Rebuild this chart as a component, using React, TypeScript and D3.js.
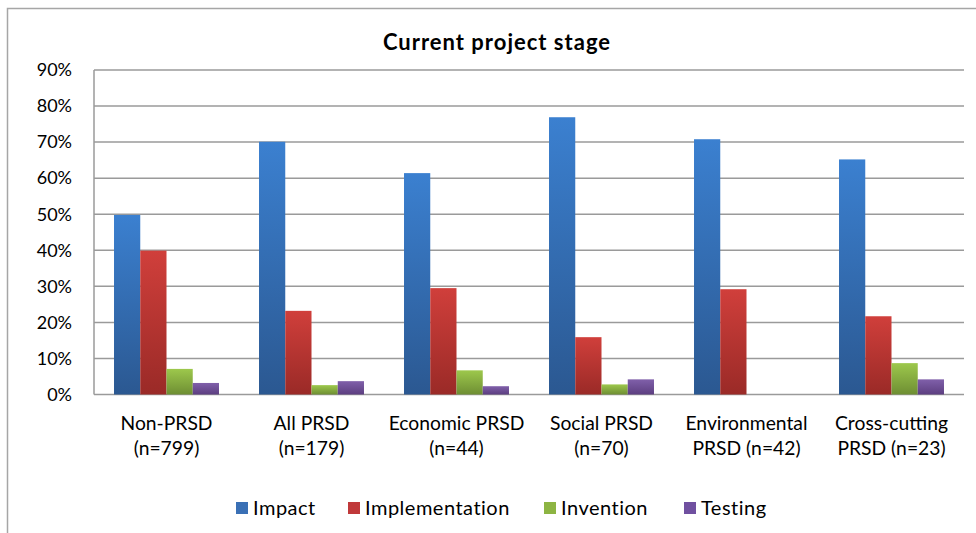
import React, { useEffect, useRef } from 'react';
import * as d3 from 'd3';

const categories = [
  ['Non-PRSD', '(n=799)'],
  ['All PRSD', '(n=179)'],
  ['Economic PRSD', '(n=44)'],
  ['Social PRSD', '(n=70)'],
  ['Environmental', 'PRSD (n=42)'],
  ['Cross-cutting', 'PRSD (n=23)'],
];
const seriesNames = ['Impact', 'Implementation', 'Invention', 'Testing'];
const impact = [49.8, 70.1, 61.4, 76.9, 70.8, 65.2];
const implementation = [39.9, 23.2, 29.5, 15.9, 29.2, 21.7];
const invention = [7.1, 2.6, 6.7, 2.8, 0, 8.7];
const testing = [3.2, 3.7, 2.3, 4.2, 0, 4.2];
const yTicks = [0, 10, 20, 30, 40, 50, 60, 70, 80, 90];

const seriesValues = [impact, implementation, invention, testing];
const colors = [
  { top: '#3b80d0', bottom: '#2b5891', key: '#3a70b5' },
  { top: '#d03f3b', bottom: '#9a2a27', key: '#c0393a' },
  { top: '#9dc84c', bottom: '#6e8e33', key: '#8db443' },
  { top: '#8060aa', bottom: '#5c3e80', key: '#7050a0' },
];

export default function App() {
  const svgRef = useRef<SVGSVGElement>(null);

  useEffect(() => {
    const svg = d3.select(svgRef.current);
    svg.selectAll('*').remove();

    const width = 976;
    const height = 533;
    const margin = { top: 70, right: 12, bottom: 138.5, left: 94 };
    const font = 'Lato, Calibri, sans-serif';

    // outer frame
    svg.append('rect')
      .attr('x', 7.5).attr('y', 8.5)
      .attr('width', 1000).attr('height', 600)
      .attr('fill', '#fff')
      .attr('stroke', '#a6a6a6').attr('stroke-width', 1.5);

    const defs = svg.append('defs');
    colors.forEach((c, i) => {
      const g = defs.append('linearGradient')
        .attr('id', `grad${i}`)
        .attr('x1', 0).attr('y1', 0).attr('x2', 0).attr('y2', 1);
      g.append('stop').attr('offset', '0%').attr('stop-color', c.top);
      g.append('stop').attr('offset', '100%').attr('stop-color', c.bottom);
    });

    const x0 = d3.scaleBand<number>()
      .domain(d3.range(categories.length))
      .range([margin.left, width - margin.right])
      .paddingInner(0.276)
      .paddingOuter(0.138);

    const x1 = d3.scaleBand<number>()
      .domain(d3.range(seriesNames.length))
      .range([0, x0.bandwidth()]);

    const y = d3.scaleLinear()
      .domain([0, 90])
      .range([height - margin.bottom, margin.top]);

    // grid lines
    svg.append('g')
      .selectAll('line')
      .data(yTicks)
      .enter().append('line')
      .attr('x1', margin.left).attr('x2', width - margin.right)
      .attr('y1', d => y(d)).attr('y2', d => y(d))
      .attr('stroke', '#9a9a9a').attr('stroke-width', 1.5);

    // left axis line
    svg.append('line')
      .attr('x1', margin.left).attr('x2', margin.left)
      .attr('y1', y(90)).attr('y2', y(0))
      .attr('stroke', '#9a9a9a').attr('stroke-width', 1.5);

    // y tick labels
    svg.append('g')
      .selectAll('text')
      .data(yTicks)
      .enter().append('text')
      .attr('x', 72).attr('y', d => y(d))
      .attr('dy', '0.35em')
      .attr('text-anchor', 'end')
      .style('font-family', font).style('font-size', '18px').style('fill', '#000')
      .text(d => `${d}%`);

    // bars
    seriesValues.forEach((vals, s) => {
      svg.append('g')
        .selectAll('rect')
        .data(vals)
        .enter().append('rect')
        .attr('x', (_, i) => (x0(i) as number) + (x1(s) as number))
        .attr('y', d => y(d))
        .attr('width', x1.bandwidth())
        .attr('height', d => y(0) - y(d))
        .attr('fill', `url(#grad${s})`);
    });

    // category labels
    const cat = svg.append('g')
      .selectAll('text')
      .data(categories)
      .enter().append('text')
      .attr('x', (_, i) => (x0(i) as number) + x0.bandwidth() / 2)
      .attr('y', 430)
      .attr('text-anchor', 'middle')
      .style('font-family', font).style('font-size', '19.3px').style('fill', '#000');
    cat.append('tspan').text(d => d[0]);
    cat.append('tspan')
      .attr('x', (_, i) => (x0(i) as number) + x0.bandwidth() / 2)
      .attr('dy', 25)
      .text(d => d[1]);

    // title
    svg.append('text')
      .attr('x', 497).attr('y', 50)
      .attr('text-anchor', 'middle')
      .style('font-family', font).style('font-size', '22px').style('font-weight', 'bold')
      .style('letter-spacing', '1px')
      .text('Current project stage');

    // legend
    const legendX = [236, 348, 544, 684];
    seriesNames.forEach((name, i) => {
      svg.append('rect')
        .attr('x', legendX[i]).attr('y', 502)
        .attr('width', 12).attr('height', 12)
        .attr('fill', colors[i].key);
      svg.append('text')
        .attr('x', legendX[i] + 17).attr('y', 508)
        .attr('dy', '0.35em')
        .style('font-family', font).style('font-size', '20px')
        .style('letter-spacing', '0.5px')
        .text(name);
    });
  }, []);

  return (
    <svg ref={svgRef} width={976} height={533}
      style={{ position: 'absolute', left: 0, top: 0 }} />
  );
}
